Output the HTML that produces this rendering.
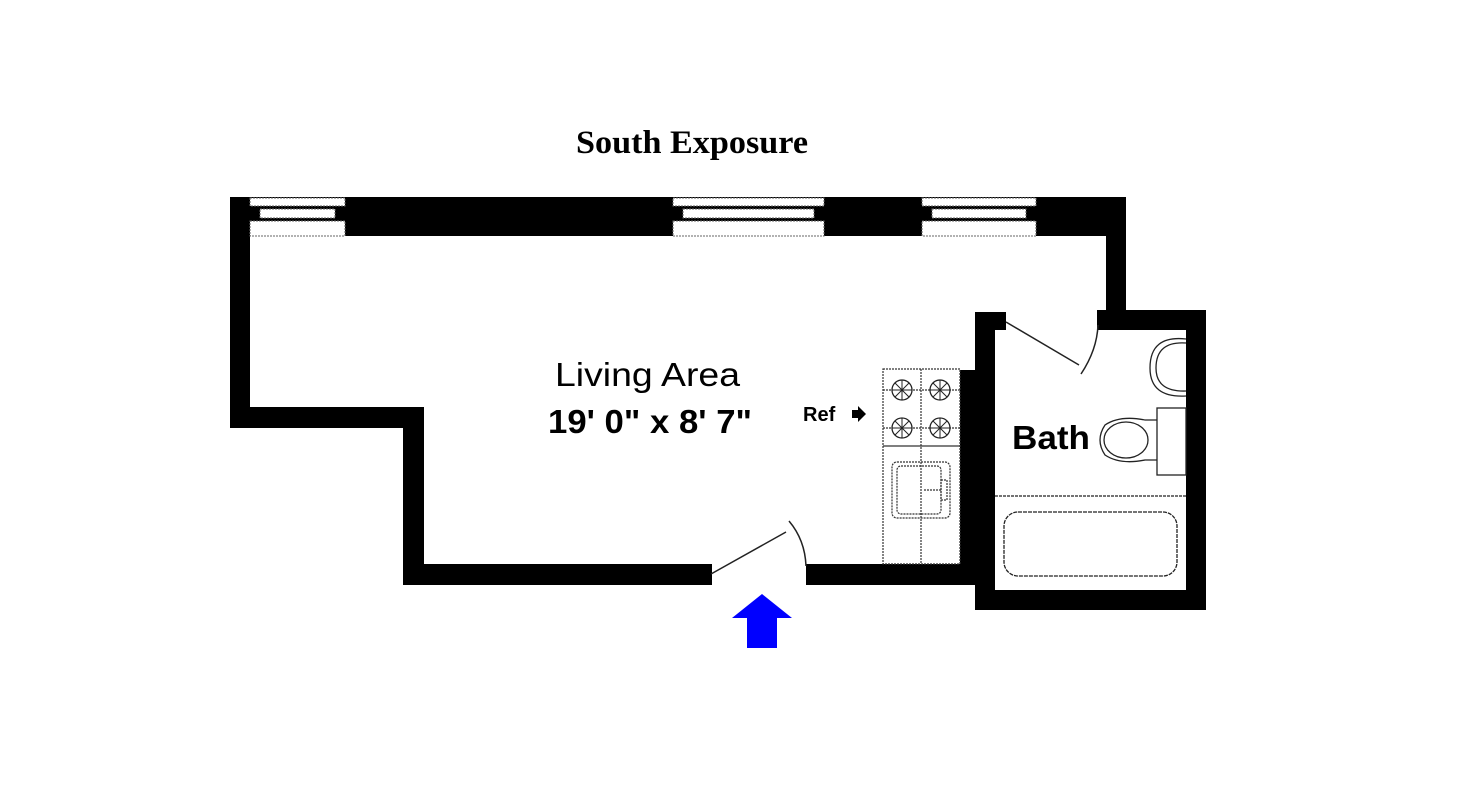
<!DOCTYPE html>
<html><head><style>
html,body{margin:0;padding:0;background:#fff;width:1463px;height:800px;overflow:hidden}
</style></head><body>
<svg width="1463" height="800" viewBox="0 0 1463 800" xmlns="http://www.w3.org/2000/svg">
<rect width="1463" height="800" fill="#fff"/>
<text x="576" y="153" font-family="Liberation Serif, serif" font-size="33" font-weight="bold" textLength="232" lengthAdjust="spacingAndGlyphs" fill="#000">South Exposure</text>
<g fill="#000">
<rect x="230" y="197" width="896" height="39"/>
<rect x="230" y="197" width="20" height="231"/>
<rect x="230" y="407" width="194" height="21"/>
<rect x="403" y="407" width="21" height="178"/>
<rect x="403" y="564" width="309" height="21"/>
<rect x="806" y="564" width="170" height="21"/>
<rect x="1106" y="197" width="20" height="133"/>
<rect x="960" y="370" width="16" height="215"/>
<rect x="975" y="312" width="31" height="18"/>
<rect x="1097" y="310" width="109" height="20"/>
<rect x="975" y="312" width="20" height="298"/>
<rect x="1186" y="310" width="20" height="300"/>
<rect x="975" y="590" width="231" height="20"/>
</g>
<g fill="#fff" stroke="#666" stroke-width="1" stroke-dasharray="2,1">
<rect x="250" y="198" width="95" height="8"/><rect x="260" y="209" width="75" height="9"/><rect x="250" y="221" width="95" height="15"/>
<rect x="673" y="198" width="151" height="8"/><rect x="683" y="209" width="131" height="9"/><rect x="673" y="221" width="151" height="15"/>
<rect x="922" y="198" width="114" height="8"/><rect x="932" y="209" width="94" height="9"/><rect x="922" y="221" width="114" height="15"/>
</g>
<g fill="none" stroke="#222" stroke-width="1.5">
<line x1="711" y1="574" x2="786" y2="532"/>
<path d="M789 521 Q805 540 806 566"/>
<line x1="1006" y1="322" x2="1079" y2="365"/>
<path d="M1081 374 Q1097 350 1098 325"/>
</g>
<g fill="none" stroke="#333" stroke-width="1.2" stroke-dasharray="2,1">
<rect x="883" y="369" width="77" height="195"/>
<line x1="921" y1="369" x2="921" y2="564"/>
<line x1="883" y1="446" x2="960" y2="446" stroke-dasharray="none"/>
<line x1="883" y1="390" x2="960" y2="390"/><line x1="883" y1="428" x2="960" y2="428"/>
<rect x="892" y="462" width="58" height="56" rx="5"/>
<rect x="897" y="466" width="44" height="48" rx="4"/>
<line x1="924" y1="490" x2="942" y2="490"/><rect x="941" y="480" width="6" height="20"/>
</g>
<g fill="#fff" stroke="#222" stroke-width="1.3">
<circle cx="902" cy="390" r="10"/><circle cx="940" cy="390" r="10"/>
<circle cx="902" cy="428" r="10"/><circle cx="940" cy="428" r="10"/>
</g>
<g stroke="#222" stroke-width="1" fill="none">
<path d="M895 383 L909 397 M909 383 L895 397 M933 383 L947 397 M947 383 L933 397 M895 421 L909 435 M909 421 L895 435 M933 421 L947 435 M947 421 L933 435 M902 380 V400 M892 390 H912 M940 380 V400 M930 390 H950 M902 418 V438 M892 428 H912 M940 418 V438 M930 428 H950"/>
</g>
<g fill="none" stroke="#222" stroke-width="1.3">
<path d="M1186 339 Q1150 335 1150 368 Q1150 398 1186 396"/>
<path d="M1186 343 Q1156 341 1156 368 Q1156 392 1186 391"/>
<rect x="1157" y="408" width="29" height="67"/>
<path d="M1157 420 L1145 420 Q1120 415 1105 425 Q1095 440 1105 455 Q1120 465 1145 460 L1157 460"/>
<ellipse cx="1126" cy="440" rx="22" ry="18"/>
<line x1="995" y1="496" x2="1186" y2="496" stroke-dasharray="3,1"/>
<rect x="1004" y="512" width="173" height="64" rx="14" stroke-dasharray="4,1"/>
</g>
<polygon points="762,594 792,618 777,618 777,648 747,648 747,618 732,618" fill="#0000ff"/>
<g font-family="Liberation Sans, sans-serif" fill="#000">
<text x="555" y="386" font-size="33" textLength="185" lengthAdjust="spacingAndGlyphs">Living Area</text>
<text x="548" y="433" font-size="33" font-weight="bold" textLength="204" lengthAdjust="spacingAndGlyphs">19' 0" x 8' 7"</text>
<text x="803" y="421" font-size="20" font-weight="bold">Ref</text>
<text x="1012" y="449" font-size="33" font-weight="bold" textLength="78" lengthAdjust="spacingAndGlyphs">Bath</text>
</g>
<polygon points="852,410 858,410 858,406 866,414 858,422 858,418 852,418" fill="#000"/>
</svg>
</body></html>
